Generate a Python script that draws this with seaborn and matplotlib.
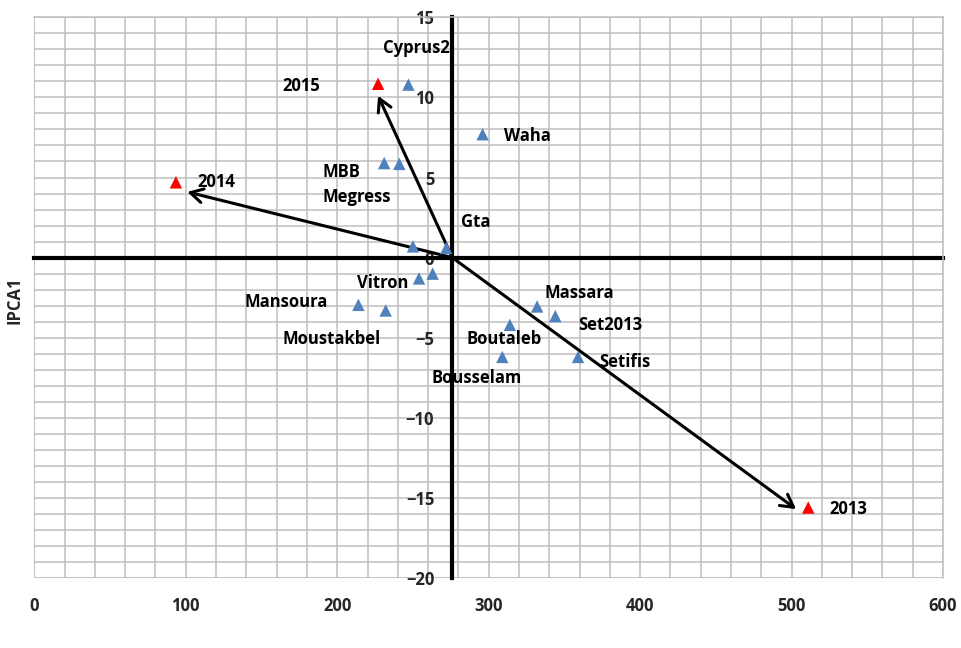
import matplotlib
matplotlib.use("Agg")
import matplotlib.pyplot as plt
from matplotlib.ticker import MultipleLocator, FixedLocator
import seaborn as sns

# genotypes (blue) -- GY main effect vs IPCA1 scores
GENO_NAMES = ["Cyprus2", "Waha", "MBB", "Megress", "Gta", "", "Vitron", "",
              "Mansoura", "Moustakbel", "Massara", "Set2013", "Boutaleb",
              "Bousselam", "Setifis"]
GENO_GY = [247, 296, 231, 241, 272, 250, 254, 263, 214, 232, 332, 344, 314, 309, 359]
GENO_IPCA1 = [10.8, 7.7, 5.9, 5.85, 0.6, 0.7, -1.3, -1.0, -2.95, -3.3,
              -3.05, -3.65, -4.2, -6.2, -6.2]

# environments (red) and their vectors
ENV_NAMES = ["2013", "2014", "2015"]
ENV_GY = [511, 93.5, 227]
ENV_IPCA1 = [-15.6, 4.7, 10.85]
ARROW_GY = [503, 101, 227]
ARROW_IPCA1 = [-15.7, 4.1, 10.1]

GRAND_MEAN = 276
XTICKS = [0, 100, 200, 300, 400, 500, 600]
YTICKS = [-20, -15, -10, -5, 0, 5, 10, 15]

BLUE = "#4F81BD"
RED = "#FF0000"
GRID = "#BFBFBF"

# where each text label sits (left edge, vertical centre)
LABEL_POS = {
    "Cyprus2": (230, 13.1), "Waha": (310, 7.6), "MBB": (190.5, 5.33),
    "Megress": (190.5, 3.77), "Gta": (282, 2.2), "Vitron": (213, -1.6),
    "Mansoura": (139, -2.8), "Moustakbel": (164, -5.1), "Massara": (337, -2.2),
    "Set2013": (359, -4.2), "Boutaleb": (285.5, -5.1), "Bousselam": (262.5, -7.5),
    "Setifis": (373, -6.5), "2015": (163.5, 10.7), "2014": (108, 4.7),
    "2013": (525, -15.7),
}

sns.set_style("white")
plt.rcParams["font.family"] = ["Open Sans", "DejaVu Sans"]
plt.rcParams["font.weight"] = "bold"
FS = 12

fig = plt.figure(figsize=(9.61, 6.48), dpi=100)
ax = fig.add_axes([0.0357, 0.108, 0.9456, 0.8653])

ax.set_xlim(0, 600)
ax.set_ylim(-20, 15)

# fine grid
ax.xaxis.set_minor_locator(MultipleLocator(20))
ax.yaxis.set_minor_locator(MultipleLocator(1))
ax.xaxis.set_major_locator(FixedLocator(XTICKS))
ax.yaxis.set_major_locator(FixedLocator(YTICKS))
ax.grid(True, which="both", color=GRID, lw=1.1, zorder=0)
ax.set_axisbelow(True)

# axes crossing at (grand mean, 0)
for s in ["top", "right"]:
    ax.spines[s].set_color(GRID)
    ax.spines[s].set_linewidth(1.1)
ax.spines["left"].set_position(("data", GRAND_MEAN))
ax.spines["bottom"].set_position(("data", 0))
for s in ["left", "bottom"]:
    ax.spines[s].set_color("black")
    ax.spines[s].set_linewidth(3)
    ax.spines[s].set_zorder(2)
ax.tick_params(axis="x", which="major", direction="out", length=4, width=3,
               color="black", labelbottom=False)
ax.tick_params(axis="y", which="major", direction="out", length=5, width=3,
               color="black", pad=8, labelsize=FS)
ax.tick_params(which="minor", length=0)

# x tick labels along the bottom of the plot area
sec = ax.secondary_xaxis("bottom")
sec.xaxis.set_major_locator(FixedLocator(XTICKS))
sec.tick_params(length=0, pad=14, labelsize=FS)
for s in sec.spines.values():
    s.set_visible(False)

# border lines of the plot area on left/bottom
ax.axvline(0, color=GRID, lw=1.1, zorder=0)
ax.axhline(-20, color=GRID, lw=1.1, zorder=0)

# environment vectors
for gx, gy in zip(ARROW_GY, ARROW_IPCA1):
    ax.annotate("", xy=(gx, gy), xytext=(GRAND_MEAN, 0),
                arrowprops=dict(arrowstyle="->,head_length=0.9,head_width=0.5",
                                lw=2.2, color="black", shrinkA=0, shrinkB=0),
                zorder=3)

sns.scatterplot(x=GENO_GY, y=GENO_IPCA1, marker="^", color=BLUE, s=80,
                edgecolor="none", ax=ax, zorder=4)
sns.scatterplot(x=ENV_GY, y=ENV_IPCA1, marker="^", color=RED, s=80,
                edgecolor="none", ax=ax, zorder=4)

for name in GENO_NAMES + ENV_NAMES:
    if not name:
        continue
    tx, ty = LABEL_POS[name]
    ax.text(tx, ty, name, ha="left", va="center", fontsize=FS,
            fontweight="bold", color="black", zorder=5)

ax.set_ylabel("IPCA1", fontsize=FS, fontweight="bold")
ax.yaxis.set_label_coords(-0.012, 0.496)
ax.set_xlabel("Genotype main effect ( GY, g/m²)", fontsize=FS, fontweight="bold")
ax.xaxis.set_label_coords(0.5, -0.087)

fig.savefig("out.png", dpi=100)
plt.close(fig)
